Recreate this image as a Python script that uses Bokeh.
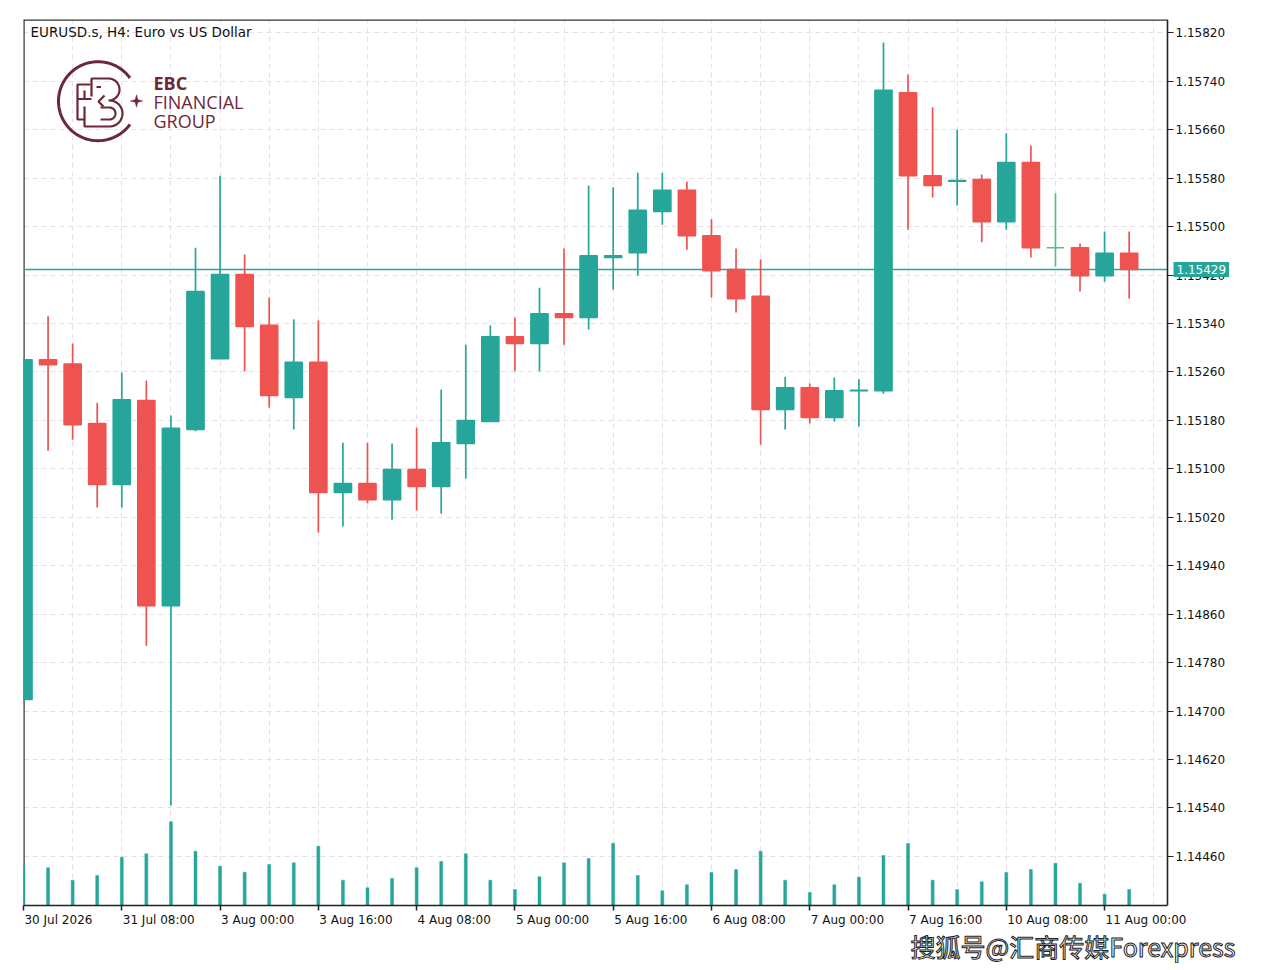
import math
from bokeh.plotting import figure
from bokeh.models import Range1d, FixedTicker, CustomJSTickFormatter, PrintfTickFormatter, Label, Title
from bokeh.core.properties import value
from bokeh.embed import file_html
from bokeh.resources import INLINE

# ---------------- data ----------------
date_labels = ["30 Jul 2026", "31 Jul 08:00", "3 Aug 00:00", "3 Aug 16:00", "4 Aug 08:00",
               "5 Aug 00:00", "5 Aug 16:00", "6 Aug 08:00", "7 Aug 00:00", "7 Aug 16:00",
               "10 Aug 08:00", "11 Aug 00:00"]
date_label_bars = [0, 4, 8, 12, 16, 20, 24, 28, 32, 36, 40, 44]

price_ticks = [1.14460, 1.14540, 1.14620, 1.14700, 1.14780, 1.14860, 1.14940, 1.15020,
               1.15100, 1.15180, 1.15260, 1.15340, 1.15420, 1.15500, 1.15580, 1.15660,
               1.15740, 1.15820]

opens = [1.14719, 1.15280, 1.15273, 1.15175, 1.15074, 1.15213, 1.14874, 1.15165, 1.15282, 1.15421,
         1.15337, 1.15218, 1.15276, 1.15061, 1.15076, 1.15049, 1.15099, 1.15071, 1.15142, 1.15178,
         1.15318, 1.15307, 1.15356, 1.15350, 1.15449, 1.15457, 1.15525, 1.15560, 1.15485, 1.15429,
         1.15385, 1.15198, 1.15234, 1.15185, 1.15229, 1.15229, 1.15721, 1.15584, 1.15575, 1.15578,
         1.15508, 1.15606, 1.15465, 1.15465, 1.15419, 1.15456]
highs = [1.15283, 1.15352, 1.15307, 1.15209, 1.15259, 1.15246, 1.15188, 1.15465, 1.15584, 1.15454,
         1.15383, 1.15347, 1.15345, 1.15143, 1.15143, 1.15142, 1.15168, 1.15231, 1.15305, 1.15337,
         1.15350, 1.15399, 1.15464, 1.15568, 1.15565, 1.15589, 1.15589, 1.15574, 1.15512, 1.15464,
         1.15446, 1.15252, 1.15241, 1.15251, 1.15248, 1.15804, 1.15751, 1.15697, 1.15660, 1.15586,
         1.15654, 1.15634, 1.15555, 1.15472, 1.15492, 1.15492]
lows = [1.14715, 1.15130, 1.15148, 1.15036, 1.15036, 1.14808, 1.14544, 1.15162, 1.15282, 1.15261,
        1.15201, 1.15165, 1.14995, 1.15005, 1.15043, 1.15016, 1.15031, 1.15026, 1.15084, 1.15178,
        1.15261, 1.15261, 1.15305, 1.15330, 1.15396, 1.15419, 1.15503, 1.15462, 1.15383, 1.15358,
        1.15140, 1.15165, 1.15175, 1.15178, 1.15170, 1.15224, 1.15495, 1.15548, 1.15535, 1.15474,
        1.15495, 1.15449, 1.15434, 1.15393, 1.15409, 1.15381]
closes = [1.15280, 1.15272, 1.15173, 1.15074, 1.15214, 1.14874, 1.15167, 1.15393, 1.15421, 1.15335,
          1.15221, 1.15276, 1.15061, 1.15076, 1.15049, 1.15099, 1.15071, 1.15143, 1.15180, 1.15318,
          1.15307, 1.15356, 1.15350, 1.15452, 1.15452, 1.15527, 1.15560, 1.15485, 1.15427, 1.15381,
          1.15198, 1.15234, 1.15185, 1.15229, 1.15230, 1.15725, 1.15584, 1.15568, 1.15576, 1.15508,
          1.15606, 1.15465, 1.15465, 1.15419, 1.15456, 1.15429]
volumes = [4000, 3770, 2530, 3000, 4830, 5170, 8370, 5430, 3930, 3330,
           4100, 4270, 5930, 2530, 1770, 2700, 3770, 4400, 5170, 2530,
           1600, 2870, 4270, 4700, 6230, 3000, 1470, 2070, 3300, 3600,
           5430, 2530, 1300, 2070, 2830, 5000, 6200, 2530, 1600, 2370,
           3300, 3600, 4230, 2230, 1130, 1600]

title_text = "EURUSD.s, H4:  Euro vs US Dollar"
watermark_text = "搜狐号@汇商传媒Forexpress"

# ---------------- style ----------------
BULL = "#26a69a"
BEAR = "#ef5350"
DOJI = "#5dbb8f"
LOGO = "#6b2837"
GRID = "#e7dfe7"
AXIS = "#222222"

W, H = 1259, 963
FL, FT, FB = 23.0, 19.0, 905.0          # frame left/top/bottom on the page
CHART_RIGHT = 46.56                      # data x where the price axis sits
PX_PER_BAR = 1144.0 / CHART_RIGHT
X0 = 0.0
X1 = (W - FL) / PX_PER_BAR               # frame extends under the price labels
Y0, Y1 = 1.14379, 1.15842
VOL_MAX = 88600


def px2x(px):
    return X0 + (px - FL) / PX_PER_BAR


def py2y(py):
    return Y1 - (py - FT) * (Y1 - Y0) / (FB - FT)


idx = list(range(len(opens)))
colors = []
for o, c in zip(opens, closes):
    colors.append(BULL if c > o else (BEAR if c < o else DOJI))
body_top = [max(o, c) for o, c in zip(opens, closes)]
body_bot = [min(o, c) for o, c in zip(opens, closes)]

p = figure(width=W, height=H, x_range=Range1d(X0, X1), y_range=Range1d(Y0, Y1),
           y_axis_location="right", output_backend="svg", toolbar_location=None,
           title=None, min_border_left=int(FL), min_border_top=int(FT), min_border_right=0,
           min_border_bottom=H - int(FB), background_fill_color="white",
           border_fill_color="white")
p.outline_line_color = None

# grids
p.xgrid.ticker = FixedTicker(ticks=list(range(0, 47, 2)))
for g in (p.xgrid, p.ygrid):
    g.grid_line_color = GRID
    g.grid_line_dash = "5 4"
    g.grid_line_width = 1

# y axis (price scale, drawn at the chart's right edge)
p.yaxis.fixed_location = CHART_RIGHT
p.yaxis.ticker = FixedTicker(ticks=price_ticks)
p.yaxis.formatter = PrintfTickFormatter(format="%.5f")
p.yaxis.major_tick_out = 6
p.yaxis.major_tick_in = 0
p.yaxis.minor_tick_out = 0
p.yaxis.major_label_standoff = 2
p.yaxis.axis_line_width = 1.6
p.yaxis.axis_line_color = AXIS
p.yaxis.major_tick_line_color = AXIS
p.yaxis.major_label_text_font = "DejaVu Sans"
p.yaxis.major_label_text_font_size = "12px"
p.yaxis.major_label_text_color = "#111111"

# x axis: ticks at bar positions (minor ticks), labels shifted to start at the tick
cw = {' ': .318, ':': .337, 'J': .295, 'u': .634, 'l': .278, 'A': .684, 'g': .635}
label_pos = []
for b, s in zip(date_label_bars, date_labels):
    wpx = sum(cw.get(ch, .636) for ch in s) * 12
    label_pos.append(b + (wpx / 2 + 1) / PX_PER_BAR)
p.xaxis.ticker = FixedTicker(ticks=label_pos, minor_ticks=date_label_bars)
p.xaxis.formatter = CustomJSTickFormatter(args=dict(labels=date_labels),
                                          code="return labels[index] ?? '';")
p.xaxis.bounds = (X0, CHART_RIGHT)
p.xaxis.major_tick_out = 0
p.xaxis.major_tick_in = 0
p.xaxis.minor_tick_out = 5
p.xaxis.minor_tick_in = 0
p.xaxis.minor_tick_line_color = AXIS
p.xaxis.minor_tick_line_width = 1.5
p.xaxis.major_label_standoff = 2
p.xaxis.axis_line_width = 1.6
p.xaxis.axis_line_color = AXIS
p.xaxis.major_label_text_font = "DejaVu Sans"
p.xaxis.major_label_text_font_size = "12px"
p.xaxis.major_label_text_color = "#111111"

# blank strip under the price labels (hides grid there)
p.quad(left=[CHART_RIGHT], right=[X1], bottom=[Y0], top=[Y1], fill_color="white",
       line_color=None)
# chart border (top / left)
p.segment(x0=[X0], x1=[CHART_RIGHT], y0=[Y1], y1=[Y1], line_color="#333333", line_width=2.4)
p.vspan(x=[X0], line_color="#333333", line_width=2.4)

# volume
p.extra_y_ranges = {"vol": Range1d(0, VOL_MAX)}
p.vbar(x=idx, top=volumes, bottom=0, width=0.12, y_range_name="vol",
       fill_color=BULL, line_color=BULL, line_width=0.5)

# current price line
p.segment(x0=[X0], x1=[CHART_RIGHT], y0=[closes[-1]], y1=[closes[-1]],
          line_color=BULL, line_width=1.5)

# candles
p.segment(x0=idx, y0=lows, x1=idx, y1=highs, line_color=colors, line_width=1.7)
p.vbar(x=idx, top=body_top, bottom=body_bot, width=0.7, fill_color=colors,
       line_color=colors, line_width=1.5)

# title
p.text(x=[px2x(30)], y=[py2y(31)], text=[title_text], text_font=value("DejaVu Sans"),
       text_font_size="13.5px", text_color="#111111", text_align="left", text_baseline="middle")

# ---------------- logo (decoration) ----------------
def arc_pts(cx, cy, r, a0, a1, n=60):
    pts = []
    for k in range(n + 1):
        a = math.radians(a0 + (a1 - a0) * k / n)
        pts.append((cx + r * math.cos(a), cy - r * math.sin(a)))
    return pts


logo_paths = [
    arc_pts(97.5, 100.7, 39.5, 36, 324, 120),
    [(90, 84), (77, 84), (77, 119), (84, 119)],
    [(77, 98.5), (91, 98.5)],
    [(84, 90), (84, 98.5)],
    [(91, 96), (91, 78), (108, 78)] + arc_pts(108, 89, 11, 90, -90, 30)
    + arc_pts(109, 113, 13, 90, -90, 30) + [(84, 126), (84, 106)],
    [(104, 95), (98, 101), (103, 106)],
    [(96, 86.5), (100.5, 86.5)],
    [(100, 107), (109, 107)] + arc_pts(109, 113, 6, 90, -90, 20) + [(100, 119)],
]
p.multi_line(xs=[[px2x(a) for a, b in path] for path in logo_paths],
             ys=[[py2y(b) for a, b in path] for path in logo_paths],
             line_color=LOGO, line_width=[3] + [2.2] * (len(logo_paths) - 1))
star = [(136, 94.3), (137.3, 99.2), (142.2, 100.5), (137.3, 101.8), (136, 106.7),
        (134.7, 101.8), (129.8, 100.5), (134.7, 99.2)]
p.patch(x=[px2x(a) for a, b in star], y=[py2y(b) for a, b in star],
        fill_color=LOGO, line_color=LOGO, line_width=0.5)
p.text(x=[px2x(153)], y=[py2y(82.5)], text=["EBC"], text_font=value("Open Sans"),
       text_font_style="bold", text_font_size="18px", text_color=LOGO,
       text_align="left", text_baseline="middle")
p.text(x=[px2x(153), px2x(153)], y=[py2y(101.5), py2y(120.5)], text=["FINANCIAL", "GROUP"],
       text_font=value("Open Sans"), text_font_size="18px", text_color=LOGO,
       text_align="left", text_baseline="middle")

# current price tag on the price scale
p.add_layout(Label(x=px2x(1173), y=closes[-1], text=f"{closes[-1]:.5f}",
                   text_font="DejaVu Sans", text_font_size="12px", text_color="white",
                   text_align="left", text_baseline="middle", background_fill_color=BULL,
                   padding=3))

# watermark
p.add_layout(Title(text=watermark_text, align="right", offset=24, standoff=-8,
                   text_font="Noto Sans CJK SC", text_font_size="25px", text_color="white",
                   text_line_height=1.0, text_font_style="normal",
                   text_outline_color="#222222"), "below")

open("out.html", "w").write(file_html(p, INLINE))
